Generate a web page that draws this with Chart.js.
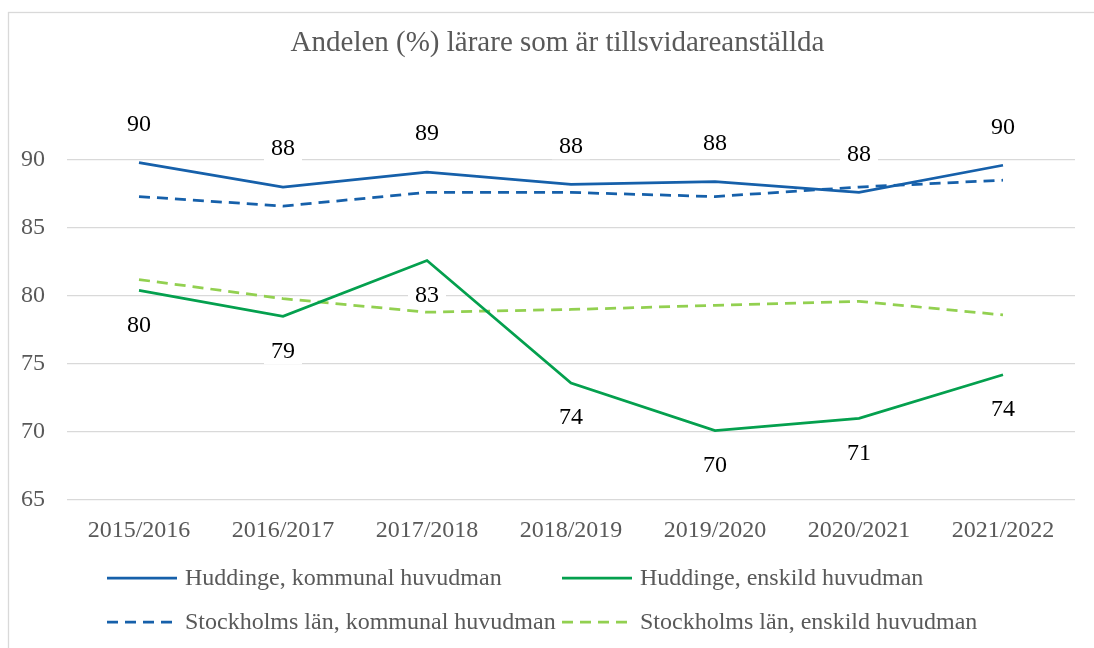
<!DOCTYPE html>
<html>
<head>
<meta charset="utf-8">
<script src="https://cdn.jsdelivr.net/npm/chart.js@4.4.1/dist/chart.umd.min.js"></script>
<style>
  html, body { margin: 0; padding: 0; background: #fff; }
  #wrap { width: 1094px; height: 648px; }
</style>
</head>
<body>
<div id="wrap"><canvas id="chart" width="1094" height="648"></canvas></div>
<script>
const years = ["2015/2016", "2016/2017", "2017/2018", "2018/2019", "2019/2020", "2020/2021", "2021/2022"];
const huddingeKommunal = [89.8, 88.0, 89.1, 88.2, 88.4, 87.6, 89.6];
const huddingeEnskild = [80.4, 78.5, 82.6, 73.6, 70.1, 71.0, 74.2];
const stockholmKommunal = [87.3, 86.6, 87.6, 87.6, 87.3, 88.0, 88.5];
const stockholmEnskild = [81.2, 79.8, 78.8, 79.0, 79.3, 79.6, 78.6];
const yTicks = [65, 70, 75, 80, 85, 90];

const blue = "#1660AA";
const green = "#04A04E";
const lightGreen = "#92D050";
const grey = "#595959";
const serif = "'Liberation Serif', 'Times New Roman', serif";

// Huddinge series get value labels: kommunal above, enskild below
const labelOffset = [-39, 34, null, null];

const frame = {
    id: "frame",
    afterLayout(chart) {
        // centre the title on the frame rather than the canvas minus padding
        if (chart.titleBlock) chart.titleBlock.left = 40;
    },
    beforeDraw(chart) {
        const ctx = chart.ctx;
        ctx.save();
        ctx.strokeStyle = "#d9d9d9";
        ctx.lineWidth = 1.3;
        ctx.strokeRect(8.5, 12.5, 1100, 700);
        ctx.restore();
    }
};

const valueLabels = {
    id: "valueLabels",
    afterDatasetsDraw(chart) {
        const ctx = chart.ctx;
        ctx.save();
        ctx.font = "24px " + serif;
        ctx.textAlign = "center";
        ctx.textBaseline = "middle";
        chart.data.datasets.forEach((ds, di) => {
            const off = labelOffset[di];
            if (off === null) return;
            chart.getDatasetMeta(di).data.forEach((pt, i) => {
                const txt = String(Math.round(ds.data[i]));
                const w = ctx.measureText(txt).width + 14;
                const y = pt.y + off;
                ctx.fillStyle = "#fff";
                ctx.fillRect(pt.x - w / 2, y - 14, w, 28);
                ctx.fillStyle = "#000";
                ctx.fillText(txt, pt.x, y + 1);
            });
        });
        ctx.restore();
    }
};

const gridLegend = {
    id: "gridLegend",
    afterDraw(chart) {
        const ctx = chart.ctx;
        const a = chart.chartArea;
        const cols = [a.left + 40, a.left + 495];
        const rows = [a.bottom + 78, a.bottom + 122];
        ctx.save();
        ctx.font = "24px " + serif;
        ctx.textBaseline = "middle";
        chart.data.datasets.forEach((ds, i) => {
            const x = cols[i % 2];
            const y = rows[Math.floor(i / 2)];
            ctx.strokeStyle = ds.borderColor;
            ctx.lineWidth = ds.borderWidth;
            ctx.setLineDash(ds.borderDash || []);
            ctx.beginPath();
            ctx.moveTo(x, y);
            ctx.lineTo(x + 70, y);
            ctx.stroke();
            ctx.setLineDash([]);
            ctx.fillStyle = grey;
            ctx.fillText(ds.label, x + 78, y + 1);
        });
        ctx.restore();
    }
};

new Chart(document.getElementById("chart"), {
    type: "line",
    data: {
        labels: years,
        datasets: [
            { label: "Huddinge, kommunal huvudman", data: huddingeKommunal, borderColor: blue, borderWidth: 2.75 },
            { label: "Huddinge, enskild huvudman", data: huddingeEnskild, borderColor: green, borderWidth: 2.75 },
            { label: "Stockholms län, kommunal huvudman", data: stockholmKommunal, borderColor: blue, borderWidth: 2.75, borderDash: [11, 7] },
            { label: "Stockholms län, enskild huvudman", data: stockholmEnskild, borderColor: lightGreen, borderWidth: 2.75, borderDash: [11, 7] }
        ]
    },
    options: {
        responsive: false,
        animation: false,
        layout: { padding: { left: 0, right: 19, top: 0, bottom: 107 } },
        elements: { point: { radius: 0, hoverRadius: 0 }, line: { tension: 0, fill: false } },
        plugins: {
            legend: { display: false },
            tooltip: { enabled: false },
            title: {
                display: true,
                text: "Andelen (%) lärare som är tillsvidareanställda",
                color: grey,
                font: { family: serif, size: 29, weight: "normal" },
                padding: { top: 26, bottom: 99 }
            }
        },
        scales: {
            x: {
                offset: true,
                grid: { display: false, drawTicks: false },
                border: { display: false },
                ticks: { color: grey, font: { family: serif, size: 24 }, padding: 16, maxRotation: 0, autoSkip: false },
                afterFit(scale) { scale.height = 41; scale.paddingLeft = 0; scale.paddingRight = 0; }
            },
            y: {
                min: 65,
                max: 90,
                afterBuildTicks(scale) { scale.ticks = yTicks.map(v => ({ value: v })); },
                afterFit(scale) { scale.width = 67; },
                grid: { color: "#d9d9d9", lineWidth: 1.3, drawTicks: false },
                border: { display: false },
                ticks: { color: grey, font: { family: serif, size: 24 }, padding: 22 }
            }
        }
    },
    plugins: [frame, valueLabels, gridLegend]
});
</script>
</body>
</html>
